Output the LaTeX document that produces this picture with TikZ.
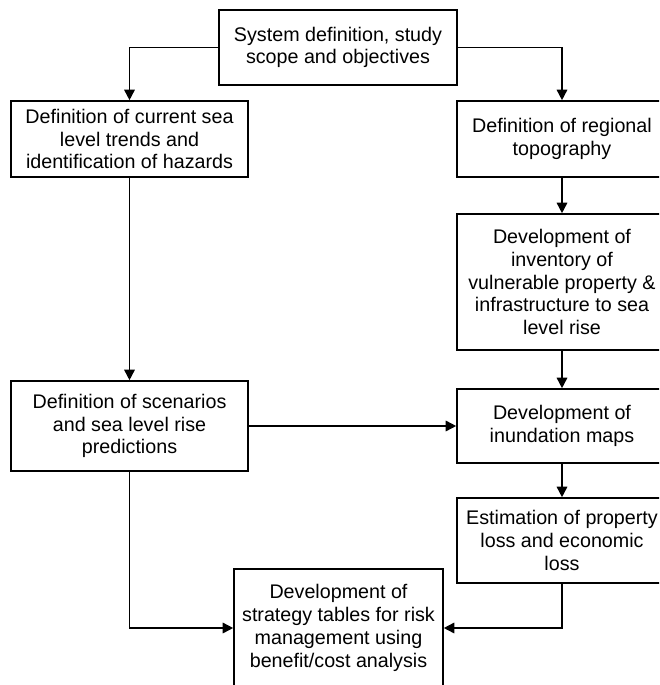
\documentclass[tikz,border=0pt]{standalone}
\usepackage{fontspec}
\setmainfont{Liberation Sans}
\usetikzlibrary{arrows.meta}
\begin{document}
\begin{tikzpicture}[x=1pt,y=-1pt,
  stepbox/.style={draw=black, line width=1.6pt, align=center, inner sep=0pt,
    font=\fontsize{19.7}{22.8}\selectfont},
  arr/.style={draw=black, line width=1.6pt, -{Triangle[length=10.5pt,width=10.5pt]}}]
\useasboundingbox (0,0) rectangle (659,685);
\clip (0,0) rectangle (659,685);
\fill[white] (0,0) rectangle (659,685);

% boxes
\node[stepbox, minimum width=238pt, minimum height=75pt] (b1) at (338,47.5)
  {System definition, study\\scope and objectives};
\node[stepbox, minimum width=237pt, minimum height=76pt] (b2) at (129.5,139)
  {Definition of current sea\\level trends and\\identification of hazards};
\node[stepbox, minimum width=210pt, minimum height=76pt] (b3) at (562,139)
  {Definition of regional\\topography};
\node[stepbox, minimum width=210pt, minimum height=136pt] (b4) at (562,282)
  {Development of\\inventory of\\vulnerable property \&\\infrastructure to sea\\level rise};
\node[stepbox, minimum width=237pt, minimum height=90pt] (b5) at (129.5,426)
  {Definition of scenarios\\and sea level rise\\predictions};
\node[stepbox, minimum width=210pt, minimum height=74pt] (b6) at (562,426)
  {Development of\\inundation maps};
\node[stepbox, minimum width=210pt, minimum height=85pt] (b7) at (562,540.5)
  {Estimation of property\\loss and economic\\loss};
\node[stepbox, minimum width=209pt, minimum height=118pt] (b8) at (338.5,628)
  {Development of\\strategy tables for risk\\management using\\benefit/cost analysis};

% connectors
\draw[arr] (b1.west) -| (b2.north);
\draw[arr] (b1.east) -| (b3.north);
\draw[arr] (b2.south) -- (b5.north);
\draw[arr] (b3.south) -- (b4.north);
\draw[arr] (b4.south) -- (b6.north);
\draw[arr] (b6.south) -- (b7.north);
\draw[arr] (b5.east) -- (b6.west);
\draw[arr] (b5.south) |- (b8.west);
\draw[arr] (b7.south) |- (b8.east);
\end{tikzpicture}
\end{document}
